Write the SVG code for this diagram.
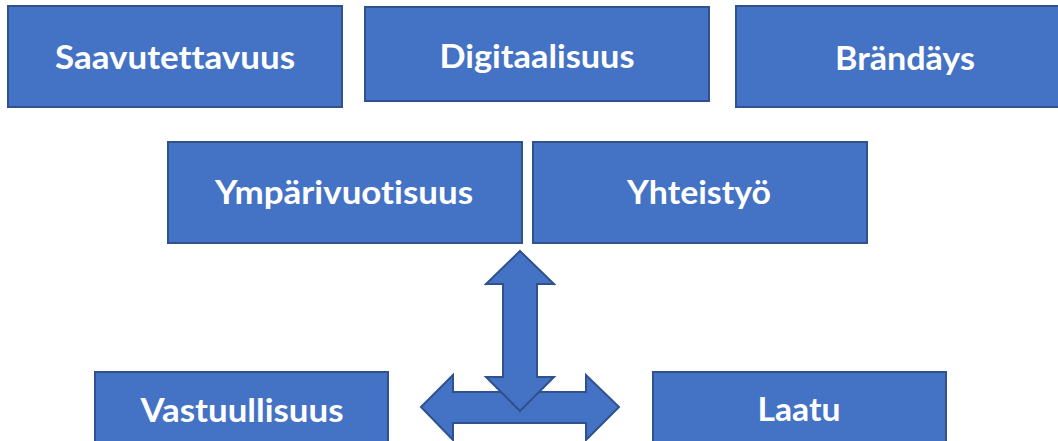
<svg xmlns="http://www.w3.org/2000/svg" width="1058" height="441" viewBox="0 0 1058 441">
<style>
.box{fill:#4472C4;stroke:#2F528F;stroke-width:2}
.lbl{fill:#FFFFFF;font-family:Lato,"Open Sans","Liberation Sans",sans-serif;font-weight:bold;font-size:33px;text-anchor:middle;font-variant-ligatures:none}
.arr{fill:#4472C4;stroke:#2F528F;stroke-width:2;stroke-linejoin:miter}
</style>
<rect width="1058" height="441" fill="#FFFFFF"/>
<g id="saavutettavuus"><rect class="box" x="8" y="6" width="334" height="101"/><text class="lbl" x="175" y="69" textLength="240" lengthAdjust="spacingAndGlyphs">Saavutettavuus</text></g>
<g id="digitaalisuus"><rect class="box" x="365" y="7" width="344" height="94"/><text class="lbl" x="537" y="68" textLength="195" lengthAdjust="spacingAndGlyphs">Digitaalisuus</text></g>
<g id="brandays"><rect class="box" x="736" y="6" width="338" height="101"/><text class="lbl" x="905" y="70" textLength="140" lengthAdjust="spacingAndGlyphs">Brändäys</text></g>
<g id="ymparivuotisuus"><rect class="box" x="168" y="142" width="354" height="101"/><text class="lbl" x="344" y="204" textLength="258" lengthAdjust="spacingAndGlyphs">Ympärivuotisuus</text></g>
<g id="yhteistyo"><rect class="box" x="533" y="142" width="334" height="101"/><text class="lbl" x="699" y="204" textLength="144" lengthAdjust="spacingAndGlyphs">Yhteistyö</text></g>
<g id="vastuullisuus"><rect class="box" x="95" y="372" width="293" height="80"/><text class="lbl" x="242" y="422" textLength="203" lengthAdjust="spacingAndGlyphs">Vastuullisuus</text></g>
<g id="laatu"><rect class="box" x="653" y="372" width="293" height="80"/><text class="lbl" x="799" y="421" textLength="83" lengthAdjust="spacingAndGlyphs">Laatu</text></g>
<g id="connectors">
<path class="arr" d="M421,407 L453,375 L453,392 L586,392 L586,375 L619,407 L586,440 L586,423 L453,423 L453,440 Z"/>
<path class="arr" d="M520,251 L554,284 L537,284 L537,377 L554,377 L520,411 L486,377 L503,377 L503,284 L486,284 Z"/>
</g>
</svg>
